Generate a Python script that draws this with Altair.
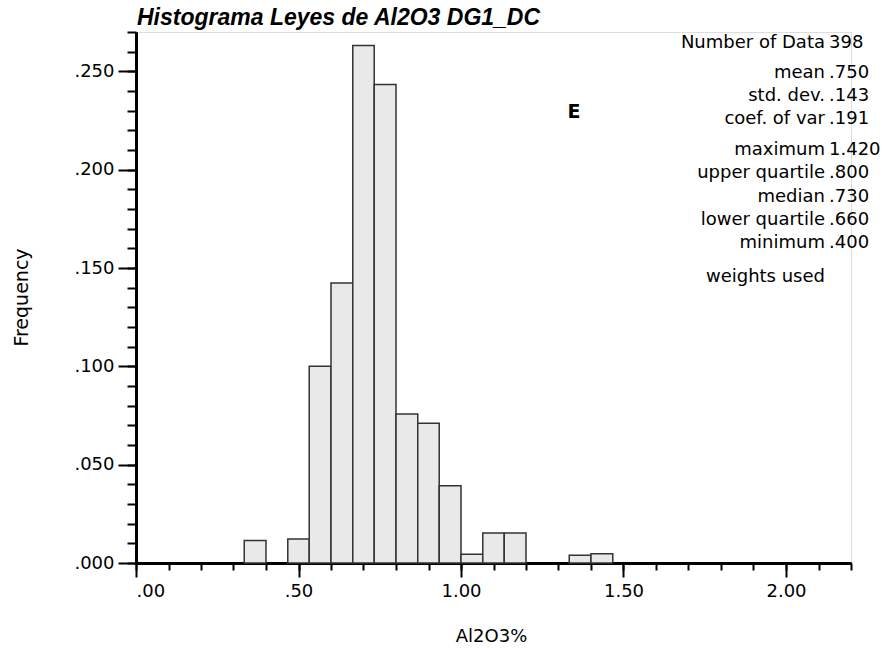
import altair as alt
import pandas as pd

# ---- data ----
bin_start = [0.333, 0.467, 0.533, 0.600, 0.667, 0.733, 0.800, 0.867, 0.933, 1.000, 1.067, 1.133, 1.333, 1.400]
bin_end   = [0.400, 0.533, 0.600, 0.667, 0.733, 0.800, 0.867, 0.933, 1.000, 1.067, 1.133, 1.200, 1.400, 1.467]
frequency = [0.0115, 0.0122, 0.1000, 0.1424, 0.2631, 0.2433, 0.0758, 0.0711, 0.0393, 0.0044, 0.0153, 0.0153, 0.0039, 0.0047]

stat_labels = ["Number of Data", "mean", "std. dev.", "coef. of var", "maximum",
               "upper quartile", "median", "lower quartile", "minimum", "weights used"]
stat_values = ["398", ".750", ".143", ".191", "1.420", ".800", ".730", ".660", ".400", ""]

title_text = "Histograma Leyes de Al2O3 DG1_DC"
x_title = "Al2O3%"
y_title = "Frequency"
marker_text = "E"

x_major = [0.0, 0.5, 1.0, 1.5, 2.0]
x_minor = [round(i * 0.1, 1) for i in range(0, 23)]
y_major = [0.0, 0.05, 0.10, 0.15, 0.20, 0.25]
y_minor = [round(i * 0.01, 2) for i in range(0, 28)]

# ---- layout (pixels, not data) ----
stat_rows_y = [11, 41, 64, 87, 118, 141, 164.5, 188, 211, 245]
LABEL_FONT = "DejaVu Sans"
FS = 18

bars_df = pd.DataFrame({"start": bin_start, "end": bin_end, "freq": frequency})
stats_df = pd.DataFrame({"label": stat_labels, "value": stat_values, "py": stat_rows_y})

x_scale = alt.Scale(domain=[0, 2.2], nice=False, zero=False)
y_scale = alt.Scale(domain=[0, 0.27], nice=False)

base_axis = dict(domainColor="black", domainWidth=3, tickColor="black", grid=False,
                 labelFont=LABEL_FONT, labelFontSize=FS, labelColor="black")
title_axis = dict(titleFont=LABEL_FONT, titleColor="black", titleFontWeight="normal")

x_minor_axis = alt.Axis(orient="bottom", values=x_minor, labels=False, tickSize=7, tickWidth=2,
                        title=None, **base_axis)
y_minor_axis = alt.Axis(orient="left", values=y_minor, labels=False, tickSize=9, tickWidth=2,
                        title=None, **base_axis)

x_major_axis = alt.Axis(orient="bottom", values=x_major, tickSize=14, tickWidth=2, labelPadding=5,
                        labelExpr="datum.value < 1 ? slice(format(datum.value, '.2f'), 1) : format(datum.value, '.2f')",
                        title=x_title, titleX=355, titleY=73, titleBaseline="middle", titleAlign="center",
                        titleFontSize=18, **base_axis, **title_axis)
y_major_axis = alt.Axis(orient="left", values=y_major, tickSize=18, tickWidth=2, labelPadding=4,
                        labelExpr="slice(format(datum.value, '.3f'), 1)",
                        title=y_title, titleX=-115, titleY=265, titleAngle=-90,
                        titleBaseline="middle", titleAlign="center",
                        titleFontSize=19, **base_axis, **title_axis)

bars = alt.Chart(bars_df).mark_rect(fill="#e9e9e9", stroke="#333333", strokeWidth=1.5).encode(
    x=alt.X("start:Q", scale=x_scale, axis=x_minor_axis),
    x2="end:Q",
    y=alt.Y("freq:Q", scale=y_scale, axis=y_minor_axis),
    y2=alt.datum(0),
)

major = alt.Chart(bars_df).mark_point(opacity=0).encode(
    x=alt.X("start:Q", scale=x_scale, axis=x_major_axis),
    y=alt.Y("freq:Q", scale=y_scale, axis=y_major_axis),
)

labels = alt.Chart(stats_df).mark_text(align="right", baseline="middle", font=LABEL_FONT,
                                       fontSize=FS, color="black").encode(
    x=alt.value(689), y=alt.Y("py:Q", scale=None), text="label:N")
values = alt.Chart(stats_df).mark_text(align="left", baseline="middle", font=LABEL_FONT,
                                       fontSize=FS, color="black").encode(
    x=alt.value(693), y=alt.Y("py:Q", scale=None), text="value:N")

marker = alt.Chart(pd.DataFrame({"t": [marker_text]})).mark_text(
    align="center", baseline="middle", font=LABEL_FONT, fontSize=19, fontWeight="bold", color="black"
).encode(x=alt.value(438), y=alt.value(80), text="t:N")

title = alt.Chart(pd.DataFrame({"t": [title_text]})).mark_text(
    align="left", baseline="alphabetic", font="Liberation Sans", fontSize=23,
    fontStyle="italic", fontWeight="bold", color="black"
).encode(x=alt.value(1), y=alt.value(-7), text="t:N")

chart = alt.layer(bars, major, labels, values, marker, title).resolve_axis(
    x="independent", y="independent"
).properties(
    width=715, height=531,
    autosize=alt.AutoSizeParams(type="none"),
    padding={"left": 136, "top": 32, "right": 43, "bottom": 85},
).configure_view(stroke=None).configure(background="white")

chart.save("out.html", embed_options={"renderer": "svg", "actions": False})
